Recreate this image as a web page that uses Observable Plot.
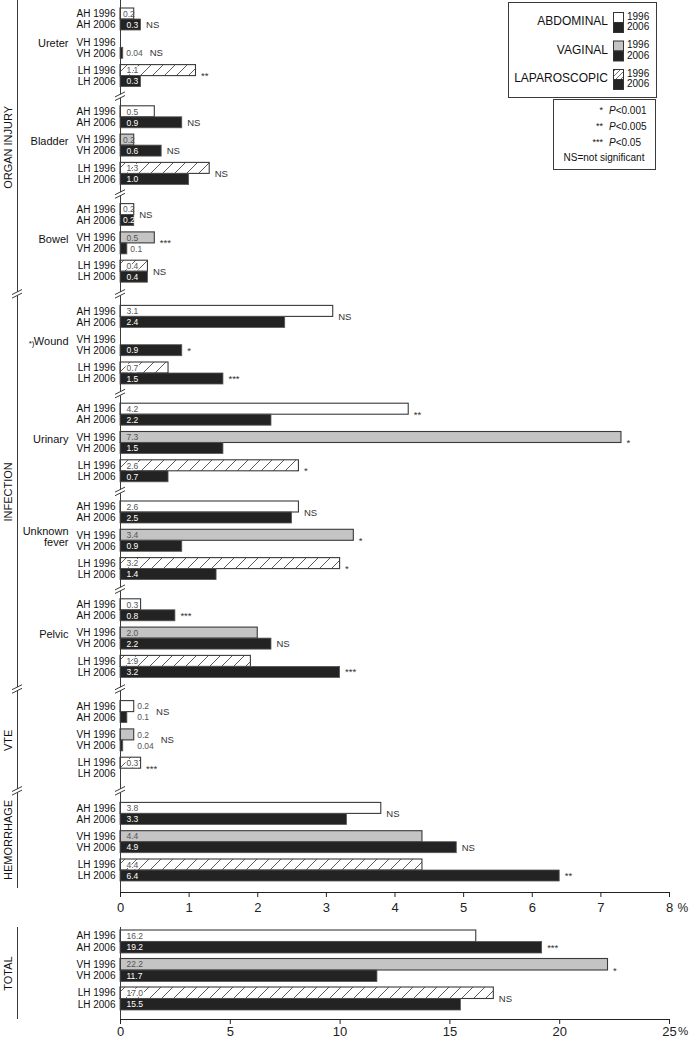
<!DOCTYPE html>
<html><head><meta charset="utf-8">
<script src="https://cdn.jsdelivr.net/npm/d3@7"></script>
<script src="https://cdn.jsdelivr.net/npm/@observablehq/plot@0.6"></script>
<style>
body{margin:0;background:#fff;}
#wrap{position:relative;width:689px;height:1042px;font-family:"Liberation Sans",Arial,Helvetica,sans-serif;}
#wrap svg{display:block;}
</style></head><body><div id="wrap"></div>
<script>
// ---------------- DATA ----------------
const categories = ["Ureter", "Bladder", "Bowel", "Wound", "Urinary", "Unknown fever", "Pelvic", "VTE", "Hemorrhage"];
const categoryLabels = ["Ureter", "Bladder", "Bowel", "Wound", "Urinary", "Unknown\nfever", "Pelvic", null, null];
const footnoteMarks = ["", "", "", "*)", "", "", "", "", ""];
const sectionNames = ["ORGAN INJURY", "INFECTION", "VTE", "HEMORRHAGE"];
const categorySection = [0, 0, 0, 1, 1, 1, 1, 2, 3];
const methods = ["AH", "VH", "LH"];
const methodNames = ["ABDOMINAL", "VAGINAL", "LAPAROSCOPIC"];
const years = ["1996", "2006"];

const ah1996 = [0.2, 0.5, 0.2, 3.1, 4.2, 2.6, 0.3, 0.2, 3.8];
const ah2006 = [0.3, 0.9, 0.2, 2.4, 2.2, 2.5, 0.8, 0.1, 3.3];
const vh1996 = [null, 0.2, 0.5, null, 7.3, 3.4, 2.0, 0.2, 4.4];
const vh2006 = [0.04, 0.6, 0.1, 0.9, 1.5, 0.9, 2.2, 0.04, 4.9];
const lh1996 = [1.1, 1.3, 0.4, 0.7, 2.6, 3.2, 1.9, 0.3, 4.4];
const lh2006 = [0.3, 1.0, 0.4, 1.5, 0.7, 1.4, 3.2, null, 6.4];
const ahSig = ["NS", "NS", "NS", "NS", "**", "NS", "***", "NS", "NS"];
const vhSig = ["NS", "NS", "***", "*", "*", "*", "NS", "NS", "NS"];
const lhSig = ["**", "NS", "NS", "***", "*", "*", "***", "***", "**"];

const totalCategories = ["TOTAL"];
const totalAh1996 = [16.2], totalAh2006 = [19.2];
const totalVh1996 = [22.2], totalVh2006 = [11.7];
const totalLh1996 = [17.0], totalLh2006 = [15.5];
const totalAhSig = ["***"], totalVhSig = ["*"], totalLhSig = ["NS"];

const upperTicks = [0, 1, 2, 3, 4, 5, 6, 7, 8];
const lowerTicks = [0, 5, 10, 15, 20, 25];
const pLegend = [["*", "P", "<0.001"], ["**", "P", "<0.005"], ["***", "P", "<0.05"]];
const nsLegend = "NS=not significant";

// ---------------- LAYOUT / STYLE ----------------
const FONT = '"Liberation Sans", Arial, Helvetica, sans-serif';
const W = 689, ML = 120, MR = 20;
const UP_H = 920, UP_AXIS = 892;
const LO_H = 122, LO_AXIS = 99;
const BAR = 11, PAIR = 28.3, GROUP = 97.8, SECTION_GAP = 4, TOP0 = 8;
const LBAR = 11.5, LPAIR = 28.5, LTOP0 = 10;
const C_DARK = "#232323", C_GREY = "#c4c4c4", C_LINE = "#3a3a3a";
const fills1996 = {AH: "white", VH: C_GREY, LH: "url(#hatch)"};
const ns = "http://www.w3.org/2000/svg";
function el(tag, attrs, parent) {
  const e = document.createElementNS(ns, tag);
  for (const k in attrs) e.setAttribute(k, attrs[k]);
  if (parent) parent.appendChild(e);
  return e;
}
const fmt = v => v < 0.1 ? v.toFixed(2) : v.toFixed(1);

function buildRows(cats, valueSets, sigSets, topOf, barH, pairH, pxu, isOutside) {
  const bars = [], pairs = [];
  cats.forEach((c, g) => methods.forEach((m, mi) => {
    const vals = valueSets[mi].map(a => a[g]);
    const top = topOf(g) + mi * pairH;
    const pairMax = d3.max(vals) ?? 0;
    const out = vals.map(v => v != null && isOutside(c, v));
    let endPx = pairMax * pxu;
    vals.forEach((v, k) => {
      const other = vals[1 - k];
      const otherOut = other == null || out[1 - k];
      let lx = null;
      if (v != null) {
        if (out[k]) {
          const anchorPx = (otherOut ? pairMax : v) * pxu + 3;
          lx = anchorPx / pxu;
          endPx = Math.max(endPx, anchorPx + fmt(v).length * 4.6);
        } else {
          lx = (v * pxu < 20 ? 2.5 : 6) / pxu;
        }
      }
      bars.push({category: c, method: m, year: years[k], value: v, label: v == null ? null : fmt(v),
        lx, outside: out[k], y1: top + k * barH, y2: top + (k + 1) * barH, yc: top + (k + 0.5) * barH});
    });
    const a = vals[0] ?? 0, b = vals[1] ?? 0;
    pairs.push({category: c, method: m, sig: sigSets[mi][g], sx: endPx / pxu,
      sy: b > a ? top + 1.5 * barH : top + barH});
  }));
  return {bars, pairs};
}

function breaksMark(ys, dxPx) {
  return (index, scales) => {
    const g = el("g", {stroke: C_LINE, "stroke-width": 1, fill: "none"});
    for (const y of ys) {
      const cx = scales.x(0) + dxPx, cy = scales.y(y);
      el("path", {d: `M${cx - 5},${cy + 1.8 + 2.5}L${cx + 5},${cy + 1.8 - 2.5}M${cx - 5},${cy - 1.8 + 2.5}L${cx + 5},${cy - 1.8 - 2.5}`}, g);
    }
    return g;
  };
}
function defsMark() {
  return () => {
    const defs = el("defs", {});
    const p = el("pattern", {id: "hatch", patternUnits: "userSpaceOnUse", width: 12, height: 12}, defs);
    el("rect", {width: 12, height: 12, fill: "white"}, p);
    el("path", {d: "M-3,3L3,-3M0,12L12,0M9,15L15,9", stroke: "#333", "stroke-width": 0.8}, p);
    const p2 = el("pattern", {id: "hatch2", patternUnits: "userSpaceOnUse", width: 5, height: 5}, defs);
    el("rect", {width: 5, height: 5, fill: "white"}, p2);
    el("path", {d: "M-1,1L1,-1M0,5L5,0M4,6L6,4", stroke: "#333", "stroke-width": 0.7}, p2);
    return defs;
  };
}
function segs(bounds, gap) {
  const s = [];
  for (let i = 0; i < bounds.length - 1; i++)
    s.push({y1: bounds[i] + (i > 0 ? gap : 0), y2: bounds[i + 1] - (i < bounds.length - 2 ? gap : 0)});
  return s;
}
function barMarks(bars, pairs) {
  const m = [];
  for (const meth of methods) {
    m.push(Plot.rect(bars.filter(d => d.year === "1996" && d.method === meth), {
      x1: 0, x2: "value", y1: "y1", y2: "y2", fill: fills1996[meth], stroke: C_LINE, strokeWidth: 1.1}));
  }
  m.push(Plot.rect(bars.filter(d => d.year === "2006"), {
    x1: 0, x2: "value", y1: "y1", y2: "y2", fill: C_DARK, stroke: "#555", strokeWidth: 0.8}));
  // value labels
  m.push(Plot.text(bars.filter(d => d.value != null && d.year === "1996" && !d.outside && d.method !== "LH"), {
    x: "lx", y: "yc", text: "label", textAnchor: "start", fontSize: 8.5, fill: "#555"}));
  m.push(Plot.text(bars.filter(d => d.value != null && d.year === "1996" && !d.outside && d.method === "LH"), {
    x: "lx", y: "yc", text: "label", textAnchor: "start", fontSize: 8.5, fill: "#555", stroke: "white", strokeWidth: 2.5}));
  m.push(Plot.text(bars.filter(d => d.value != null && d.year === "2006" && !d.outside), {
    x: "lx", y: "yc", text: "label", textAnchor: "start", fontSize: 8.5, fill: "white"}));
  m.push(Plot.text(bars.filter(d => d.value != null && d.outside), {
    x: "lx", y: "yc", text: "label", textAnchor: "start", fontSize: 8.5, fill: "#555"}));
  // significance
  m.push(Plot.text(pairs, {x: "sx", y: "sy", text: "sig", dx: 5, textAnchor: "start", fontSize: 9.5, fill: "#333"}));
  // row labels
  m.push(Plot.text(bars, {y: "yc", text: d => `${d.method} ${d.year}`, frameAnchor: "left", dx: -5,
    textAnchor: "end", fontSize: 10, fill: "#111"}));
  return m;
}

// ---------------- UPPER CHART ----------------
const PXU = (W - ML - MR) / 8;
const topOf = g => TOP0 + g * GROUP + categorySection[g] * SECTION_GAP;
const groupEnd = g => topOf(g) + 2 * PAIR + 2 * BAR;
const breaksY = d3.range(1, categories.length).map(g => (groupEnd(g - 1) + topOf(g)) / 2);
const sectionBreaks = breaksY.filter((b, i) => categorySection[i + 1] !== categorySection[i]);
const up = buildRows(categories, [[ah1996, ah2006], [vh1996, vh2006], [lh1996, lh2006]],
  [ahSig, vhSig, lhSig], topOf, BAR, PAIR, PXU,
  (c, v) => v < 0.2 || (c === "VTE" && v < 0.3));

const catLabelData = categories.map((c, g) => ({label: categoryLabels[g], foot: footnoteMarks[g],
  yc: topOf(g) + PAIR + BAR - 4})).filter(d => d.label);
const sectionBounds = [0, ...sectionBreaks, UP_AXIS - 4];
const sectionData = sectionNames.map((s, i) => ({name: s, yc: (sectionBounds[i] + sectionBounds[i + 1]) / 2}));

const upper = Plot.plot({
  width: W, height: UP_H, marginLeft: ML, marginRight: MR, marginTop: 0, marginBottom: UP_H - UP_AXIS,
  style: {fontFamily: FONT, fontSize: "13px", color: "#222", background: "white", overflow: "visible"},
  x: {domain: [0, 8], ticks: upperTicks, tickSize: 5, tickPadding: 5, line: true, label: null},
  y: {domain: [0, UP_AXIS], range: [0, UP_AXIS], axis: null},
  marks: [
    defsMark(),
    ...barMarks(up.bars, up.pairs),
    Plot.ruleX(segs([0, ...breaksY, UP_AXIS], 1.8), {x: 0, y1: "y1", y2: "y2", stroke: C_LINE, strokeWidth: 1}),
    breaksMark(breaksY, 0),
    Plot.ruleX(segs(sectionBounds, 1.8), {x: 0, y1: "y1", y2: "y2", dx: -103, stroke: C_LINE, strokeWidth: 1}),
    breaksMark(sectionBreaks, -103),
    Plot.text(catLabelData, {y: "yc", text: "label", frameAnchor: "left", dx: -52, textAnchor: "end", fontSize: 11, fill: "#111"}),
    Plot.text(catLabelData.filter(d => d.foot), {y: "yc", text: "foot", frameAnchor: "left", dx: -86, dy: 2, textAnchor: "end", fontSize: 8, fill: "#111"}),
    Plot.text(sectionData, {y: "yc", text: "name", frameAnchor: "left", dx: -112, rotate: -90, textAnchor: "middle", fontSize: 11, fill: "#111"}),
    Plot.text(["%"], {x: 8, y: UP_AXIS, dx: 8, dy: 16, text: d => d, textAnchor: "start", fontSize: 12, fill: "#222"})
  ]
});

// ---------------- LOWER CHART ----------------
const LPXU = (W - ML - MR) / 25;
const lo = buildRows(totalCategories, [[totalAh1996, totalAh2006], [totalVh1996, totalVh2006], [totalLh1996, totalLh2006]],
  [totalAhSig, totalVhSig, totalLhSig], () => LTOP0, LBAR, LPAIR, LPXU, () => false);
const loTop = LTOP0 - 3;
const lower = Plot.plot({
  width: W, height: LO_H, marginLeft: ML, marginRight: MR, marginTop: 0, marginBottom: LO_H - LO_AXIS,
  style: {fontFamily: FONT, fontSize: "13px", color: "#222", background: "white", overflow: "visible"},
  x: {domain: [0, 25], ticks: lowerTicks, tickSize: 5, tickPadding: 2, line: true, label: null},
  y: {domain: [0, LO_AXIS], range: [0, LO_AXIS], axis: null},
  marks: [
    ...barMarks(lo.bars, lo.pairs),
    Plot.ruleX([{y1: loTop, y2: LO_AXIS}], {x: 0, y1: "y1", y2: "y2", stroke: C_LINE}),
    Plot.ruleX([{y1: loTop, y2: LO_AXIS}], {x: 0, y1: "y1", y2: "y2", dx: -103, stroke: C_LINE}),
    Plot.text(totalCategories, {y: (loTop + LO_AXIS) / 2, text: d => d, frameAnchor: "left", dx: -112, rotate: -90, textAnchor: "middle", fontSize: 11, fill: "#111"}),
    Plot.text(["%"], {x: 25, y: LO_AXIS, dx: 8.5, dy: 12, text: d => d, textAnchor: "start", fontSize: 11.5, fill: "#222"})
  ]
});

const wrap = document.getElementById("wrap");
wrap.appendChild(upper);
wrap.appendChild(lower);

// ---------------- LEGEND (overlay) ----------------
const leg = el("svg", {width: W, height: 175});
leg.style.position = "absolute"; leg.style.left = "0px"; leg.style.top = "0px";
leg.style.fontFamily = FONT;
el("rect", {x: 508.5, y: 2.5, width: 148, height: 95, fill: "white", stroke: C_LINE, "stroke-width": 1}, leg);
const legFill = {AH: "white", VH: C_GREY, LH: "url(#hatch2)"};
methodNames.forEach((name, i) => {
  const cy = 22 + i * 28.5;
  const t = el("text", {x: 608, y: cy, "text-anchor": "end", "dominant-baseline": "middle", "font-size": 12, fill: "#111"}, leg);
  t.textContent = name;
  el("rect", {x: 613.5, y: cy - 9.5, width: 10, height: 10, fill: legFill[methods[i]], stroke: "#333", "stroke-width": 1}, leg);
  el("rect", {x: 613.5, y: cy + 0.5, width: 10, height: 10, fill: C_DARK, stroke: "#333", "stroke-width": 1}, leg);
  years.forEach((yr, k) => {
    const ty = el("text", {x: 627, y: cy + (k ? 5.5 : -5), "dominant-baseline": "middle", "font-size": 10, fill: "#111"}, leg);
    ty.textContent = yr;
  });
});
el("rect", {x: 553.5, y: 99.5, width: 102, height: 70, fill: "white", stroke: C_LINE, "stroke-width": 1}, leg);
pLegend.forEach((row, i) => {
  const y = 111 + i * 16;
  const s = el("text", {x: 603, y, "text-anchor": "end", "dominant-baseline": "middle", "font-size": 9, fill: "#111"}, leg);
  s.textContent = row[0];
  const p = el("text", {x: 609, y, "dominant-baseline": "middle", "font-size": 10, fill: "#111"}, leg);
  const it = el("tspan", {"font-style": "italic"}, p); it.textContent = row[1];
  const rest = el("tspan", {}, p); rest.textContent = row[2];
});
const nsT = el("text", {x: 604, y: 158, "text-anchor": "middle", "dominant-baseline": "middle", "font-size": 10, fill: "#111"}, leg);
nsT.textContent = nsLegend;
wrap.appendChild(leg);
</script>
</body></html>
